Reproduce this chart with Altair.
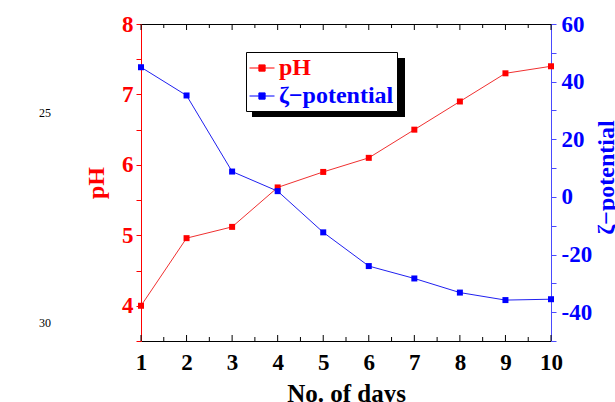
import altair as alt
import pandas as pd

days = [1, 2, 3, 4, 5, 6, 7, 8, 9, 10]
ph_values = [4.0, 4.96, 5.12, 5.68, 5.9, 6.1, 6.5, 6.9, 7.3, 7.4]
zeta_values = [45.0, 35.2, 8.8, 2.0, -12.3, -24.0, -28.3, -33.2, -35.8, -35.5]
series_names = ["pH", "ζ−potential"]
series_colors = ["#ff0000", "#0000ff"]
x_tick_values = [1, 1.5, 2, 2.5, 3, 3.5, 4, 4.5, 5, 5.5, 6, 6.5, 7, 7.5, 8, 8.5, 9, 9.5, 10]
ph_tick_values = [3.5, 4, 4.5, 5, 5.5, 6, 6.5, 7, 7.5, 8]
zeta_tick_values = [-50, -40, -30, -20, -10, 0, 10, 20, 30, 40, 50, 60]
margin_notes = ["25", "30"]

FONT = "Liberation Serif"
RED = "#ff0000"
BLUE = "#0000ff"
BLUE_AXIS = "#4a4aff"
H = 317

ph_df = pd.DataFrame({"day": days, "value": ph_values, "series": series_names[0]})
zeta_df = pd.DataFrame({"day": days, "value": zeta_values, "series": series_names[1]})
tick_df = pd.DataFrame({"t": x_tick_values})

x_scale = alt.Scale(domain=[1, 10], nice=False, zero=False)

color_expr = "datum.label == 'pH' || datum.value == 'pH' ? '#ff0000' : '#0000ff'"
legend = alt.Legend(
    title=None,
    orient="none",
    legendX=105,
    legendY=28,
    direction="vertical",
    fillColor="white",
    strokeColor="black",
    padding=3,
    symbolType="M-1,0L-0.25,0M0.25,0L1,0M-0.25,-0.25L0.25,-0.25L0.25,0.25L-0.25,0.25Z",
    symbolSize=625,
    symbolStrokeWidth=1,
    symbolFillColor=alt.ExprRef(color_expr),
    symbolStrokeColor=alt.ExprRef(color_expr),
    labelColor=alt.ExprRef(color_expr),
    labelFont=FONT,
    labelFontSize=24,
    labelFontWeight="bold",
    labelOffset=4,
    rowPadding=3,
)
color = alt.Color("series:N", scale=alt.Scale(domain=series_names, range=series_colors), legend=legend)

bottom_axis = alt.Axis(
    orient="bottom", values=x_tick_values,
    labelExpr="datum.value % 1 == 0 ? toString(datum.value) : ''",
    title="No. of days", titleFont=FONT, titleFontSize=25, titleFontWeight="bold",
    titleColor="black", titlePadding=7,
    labelFont=FONT, labelFontSize=23, labelFontWeight="bold", labelColor="black",
    labelPadding=10, labelFlush=False,
    domainColor="black", ticks=False, grid=False,
)
top_axis = alt.Axis(orient="top", values=x_tick_values, labels=False, ticks=False,
                    title=None, domainColor="black", grid=False)

ph_y = alt.Y("value:Q", scale=alt.Scale(domain=[3.5, 8], nice=False, zero=False),
             axis=alt.Axis(orient="left", values=ph_tick_values,
                           labelExpr="datum.value % 1 == 0 ? toString(datum.value) : ''",
                           title="pH", titleFont=FONT, titleFontSize=24, titleFontWeight="bold",
                           titleColor=RED, titlePadding=13,
                           labelFont=FONT, labelFontSize=23, labelFontWeight="bold", labelColor=RED,
                           labelPadding=3, labelFlush=False,
                           domainColor=RED, tickColor=RED, tickSize=5, grid=False))
zeta_y = alt.Y("value:Q", scale=alt.Scale(domain=[-50, 60], nice=False, zero=False),
               axis=alt.Axis(orient="right", values=zeta_tick_values,
                             labelExpr="datum.value % 20 == 0 ? toString(datum.value) : ''",
                             title="ζ−potential", titleFont=FONT, titleFontSize=24,
                             titleFontWeight="bold", titleColor=BLUE,
                             titleAngle=270, titleX=55, titleY=153,
                             titleAlign="center", titleBaseline="middle",
                             labelFont=FONT, labelFontSize=23, labelFontWeight="bold", labelColor=BLUE,
                             labelPadding=5, labelFlush=False,
                             domainColor=BLUE_AXIS, tickColor=BLUE_AXIS, tickSize=5, grid=False))

ph_x = alt.X("day:Q", scale=x_scale, axis=bottom_axis)
zeta_x = alt.X("day:Q", scale=x_scale, axis=top_axis)

ph_line = alt.Chart(ph_df).mark_line(color="#f03030", strokeWidth=1).encode(x=ph_x, y=ph_y)
ph_pts = alt.Chart(ph_df).mark_point(shape="square", filled=True, size=36, opacity=1).encode(
    x=ph_x, y=ph_y, color=color)
bottom_major = alt.Chart(tick_df).transform_filter("datum.t % 1 == 0").mark_rule(
    color="black", strokeWidth=1).encode(
    x=alt.X("t:Q", scale=x_scale, axis=bottom_axis), y=alt.value(H), y2=alt.value(H - 6))
bottom_minor = alt.Chart(tick_df).transform_filter("datum.t % 1 != 0").mark_rule(
    color="black", strokeWidth=1).encode(
    x=alt.X("t:Q", scale=x_scale, axis=bottom_axis), y=alt.value(H), y2=alt.value(H - 4))
ph_layer = alt.layer(ph_line, ph_pts, bottom_major, bottom_minor)

zeta_line = alt.Chart(zeta_df).mark_line(color="#2020f0", strokeWidth=1).encode(x=zeta_x, y=zeta_y)
zeta_pts = alt.Chart(zeta_df).mark_point(shape="square", filled=True, size=36, opacity=1).encode(
    x=zeta_x, y=zeta_y, color=color)
top_major = alt.Chart(tick_df).transform_filter("datum.t % 1 == 0").mark_rule(
    color="black", strokeWidth=1).encode(
    x=alt.X("t:Q", scale=x_scale, axis=top_axis), y=alt.value(0), y2=alt.value(6))
top_minor = alt.Chart(tick_df).transform_filter("datum.t % 1 != 0").mark_rule(
    color="black", strokeWidth=1).encode(
    x=alt.X("t:Q", scale=x_scale, axis=top_axis), y=alt.value(0), y2=alt.value(4))
zeta_layer = alt.layer(zeta_line, zeta_pts, top_major, top_minor)

one = pd.DataFrame({"k": [0]})
shadow = alt.Chart(one).mark_rect(color="black").encode(
    x=alt.value(111), x2=alt.value(264), y=alt.value(34), y2=alt.value(93))

note1 = alt.Chart(one).mark_text(text=margin_notes[0], font=FONT, fontSize=12, fill="#000000").encode(
    x=alt.value(-96), y=alt.value(89))
note2 = alt.Chart(one).mark_text(text=margin_notes[1], font=FONT, fontSize=12, fill="#000000").encode(
    x=alt.value(-96), y=alt.value(299))

chart = alt.layer(shadow, ph_layer, zeta_layer, note1, note2).resolve_scale(
    y="independent").resolve_axis(x="independent").properties(
    width=410, height=H,
    autosize=alt.AutoSizeParams(type="none"),
    padding={"left": 141, "top": 24, "right": 64, "bottom": 61},
).configure_view(stroke=None).configure(background="white")

chart.save("out.html", embed_options={"renderer": "svg", "actions": False})
